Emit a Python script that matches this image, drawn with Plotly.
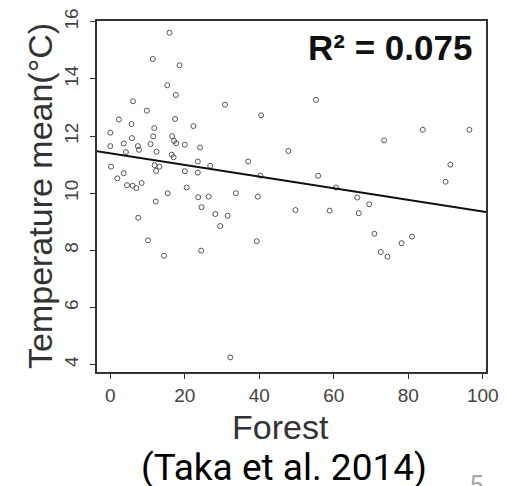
import plotly.graph_objects as go

# ---- data ----
forest = [
    15.9, 11.4, 18.6, 15.3, 17.6, 6.1, 9.8, 2.3, 17.4, 5.7, 11.8, 22.3, 30.8,
    0.0, 5.8, 11.5, 16.6, 17.1, 17.7, 0.0, 3.6, 7.4, 7.7, 10.8, 20.0, 4.2,
    12.4, 24.1, 16.5, 17.0, 0.2, 11.9, 13.2, 12.3, 20.0, 3.6, 1.9, 4.5, 6.0,
    7.0, 8.4, 15.4, 20.5, 23.5, 26.8, 23.5, 37.0, 12.2, 7.5, 10.1, 14.4, 23.6,
    26.4, 33.7, 24.5, 28.2, 31.5, 29.5, 24.4, 32.2,
    55.2, 40.5, 83.9, 96.4, 73.5, 47.8, 91.3, 90.0, 40.3, 55.8, 60.6, 39.6,
    66.3, 69.5, 49.7, 58.9, 66.7, 39.3, 70.9, 81.0, 78.2, 72.6, 74.4,
]
temp_mean = [
    15.62, 14.70, 14.48, 13.78, 13.44, 13.22, 12.89, 12.58, 12.60, 12.42, 12.28, 12.35, 13.10,
    12.12, 11.93, 11.99, 12.00, 11.83, 11.75, 11.65, 11.74, 11.65, 11.52, 11.72, 11.70, 11.44,
    11.45, 11.60, 11.35, 11.26, 10.93, 10.98, 10.93, 10.78, 10.77, 10.70, 10.52, 10.28, 10.26,
    10.18, 10.36, 10.00, 10.20, 11.11, 10.96, 10.72, 11.11, 9.71, 9.14, 8.35, 7.81, 9.86,
    9.88, 10.00, 9.51, 9.27, 9.21, 8.85, 7.99, 4.25,
    13.27, 12.73, 12.22, 12.22, 11.85, 11.48, 11.00, 10.40, 10.62, 10.61, 10.20, 9.88,
    9.85, 9.61, 9.41, 9.39, 9.30, 8.32, 8.58, 8.48, 8.25, 7.94, 7.78,
]
fit_intercept = 11.40
fit_slope = -0.0204
r2_label = "R² = 0.075"
x_ticks = [0, 20, 40, 60, 80, 100]
y_ticks = [4, 6, 8, 10, 12, 14, 16]
x_range = [-3.57, 100.86]
y_range = [3.74, 16.03]

W, H = 509, 486
ML, MR, MT, MB = 97, 23, 21, 114
PW, PH = W - ML - MR, H - MT - MB


def px(x):
    return (x - ML) / PW


def py(y):
    return (H - MB - y) / PH


fig = go.Figure()
fig.add_trace(go.Scatter(
    x=forest, y=temp_mean, mode="markers",
    marker=dict(symbol="circle-open", size=5, color="#555555", line=dict(width=1, color="#555555")),
    showlegend=False, hoverinfo="skip",
))
fit_x = x_range
fit_y = [fit_intercept + fit_slope * v for v in fit_x]
fig.add_trace(go.Scatter(
    x=fit_x, y=fit_y, mode="lines",
    line=dict(color="#111111", width=2), showlegend=False, hoverinfo="skip",
))

tick_font = dict(family="Liberation Sans, Arial, sans-serif", size=19, color="#444444")
fig.update_xaxes(
    range=x_range, tickvals=x_ticks, ticks="outside", ticklen=5, tickwidth=1, tickcolor="#333333",
    showline=True, linecolor="#333333", linewidth=2, mirror=True,
    showgrid=False, zeroline=False, tickfont=tick_font,
)
fig.update_yaxes(
    range=y_range, tickvals=y_ticks, ticks="outside", ticklen=5, tickwidth=1, tickcolor="#333333",
    showline=True, linecolor="#333333", linewidth=2, mirror=True,
    showgrid=False, zeroline=False, tickfont=tick_font, tickangle=-90,
    ticklabelstandoff=4,
)

title_font = dict(family="Liberation Sans, Arial, sans-serif", size=34, color="#333333")
narrow = "Liberation Sans Narrow, Roboto, sans-serif"
annotations = [
    dict(text="Temperature mean(°C)", x=px(40), y=py(196), xref="paper", yref="paper",
         textangle=-90, showarrow=False, font=title_font, xanchor="center", yanchor="middle"),
    dict(text="Forest", x=px(280), y=py(427), xref="paper", yref="paper",
         showarrow=False, font=title_font, xanchor="center", yanchor="middle"),
    dict(text="<b>" + r2_label + "</b>", x=px(474), y=py(48), xref="paper", yref="paper",
         showarrow=False, font=dict(family="Liberation Sans, Arial, sans-serif", size=35, color="#111111"),
         xanchor="right", yanchor="middle"),
    dict(text="(Taka et al. 2014)", x=px(284), y=py(467), xref="paper", yref="paper",
         showarrow=False, font=dict(family=narrow, size=37, color="#000000"),
         xanchor="center", yanchor="middle"),
    dict(text="5", x=px(476), y=py(468), xref="paper", yref="paper",
         showarrow=False, font=dict(family=narrow, size=26, color="#aaaaaa"),
         xanchor="center", yanchor="top"),
]
fig.update_layout(
    width=W, height=H, margin=dict(l=ML, r=MR, t=MT, b=MB, autoexpand=False),
    paper_bgcolor="white", plot_bgcolor="white", annotations=annotations,
)
fig.write_html(
    "out.html",
    config={"displayModeBar": False},
    post_script="document.body.style.margin='0';document.body.style.padding='0';",
)
